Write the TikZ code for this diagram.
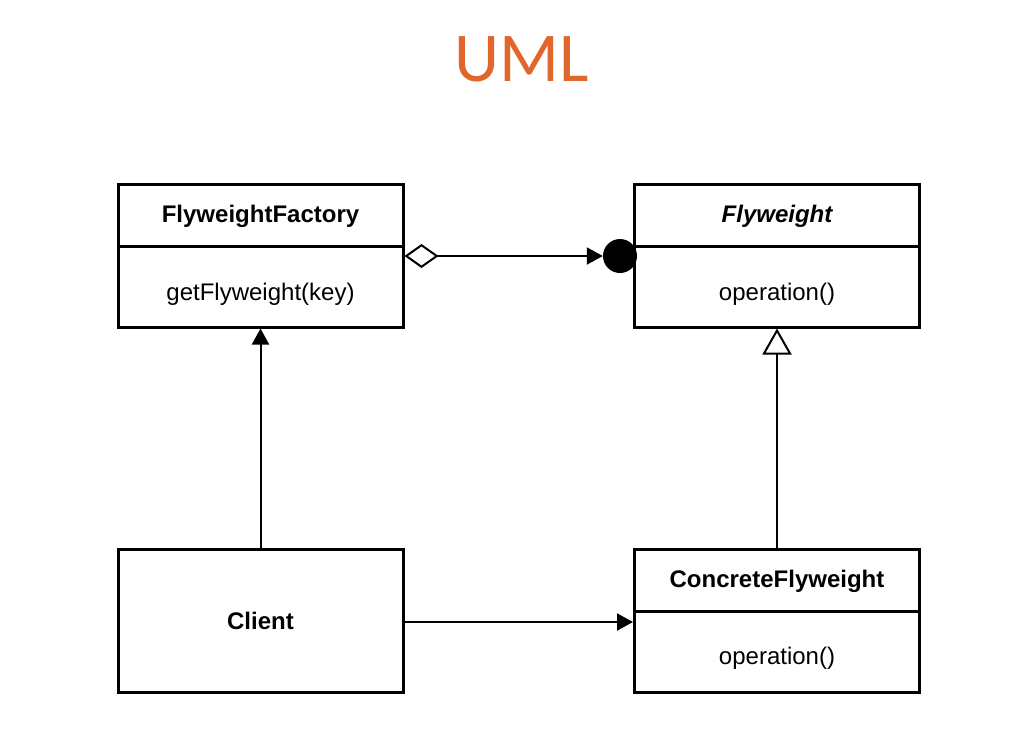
\documentclass[tikz,border=0pt]{standalone}
\usepackage{fontspec}
\setmainfont{Liberation Sans}
\newfontfamily\titlefont{Carlito}
\usetikzlibrary{arrows.meta}
\definecolor{umlorange}{HTML}{E0662C}
\tikzset{
  classbox/.style={draw, line width=3pt, minimum width=285pt, minimum height=143pt, inner sep=0pt},
  divider/.style={line width=3pt},
  conn/.style={line width=2pt},
  lbl/.style={font=\fontsize{24pt}{28pt}\selectfont, inner sep=0pt},
  blbl/.style={lbl, font=\fontsize{24pt}{28pt}\selectfont\bfseries},
}
\begin{document}
\begin{tikzpicture}[x=1pt,y=-1pt]
\useasboundingbox (0,0) rectangle (1009,747);
% title
\node[text=umlorange, font=\titlefont\fontsize{70pt}{80pt}\selectfont, inner sep=0pt] (title) at (522,59) {UML};
% boxes
\node[classbox] (ff) at (260.5,255.5) {};
\node[classbox] (fw) at (777,255.5) {};
\node[classbox] (cl) at (260.5,620.5) {};
\node[classbox] (cf) at (777,620.5) {};
% dividers
\draw[divider] (ff.west |- 0,246) -- (ff.east |- 0,246);
\draw[divider] (fw.west |- 0,246) -- (fw.east |- 0,246);
\draw[divider] (cf.west |- 0,611) -- (cf.east |- 0,611);
% texts
\node[blbl] (ffname) at (260.5,216) {FlyweightFactory};
\node[lbl] (ffop) at (260.5,294) {getFlyweight(key)};
\node[blbl, font=\fontsize{24pt}{28pt}\selectfont\bfseries\itshape] (fwname) at (777,216) {Flyweight};
\node[lbl] (fwop) at (777,294) {operation()};
\node[blbl] (clname) at (260.5,621) {Client};
\node[blbl] (cfname) at (777,581) {ConcreteFlyweight};
\node[lbl] (cfop) at (777,658) {operation()};
% black dot
\node[circle, fill=black, minimum size=34pt, inner sep=0pt] (dot) at (620,256) {};
% connectors
\draw[conn, {Diamond[open, length=34pt, width=24pt, line width=2pt]}-{Triangle[length=16pt, width=17pt]}]
  (ff.east |- dot) -- (dot.west);
\draw[conn, -{Triangle[length=16pt, width=17pt]}] (cl.north) -- (ff.south);
\draw[conn, -{Triangle[open, length=26pt, width=29pt, line width=2pt]}] (cf.north) -- (fw.south);
\draw[conn, -{Triangle[length=16pt, width=17pt]}] (cl.east |- 0,622) -- (cf.west |- 0,622);
\end{tikzpicture}
\end{document}
